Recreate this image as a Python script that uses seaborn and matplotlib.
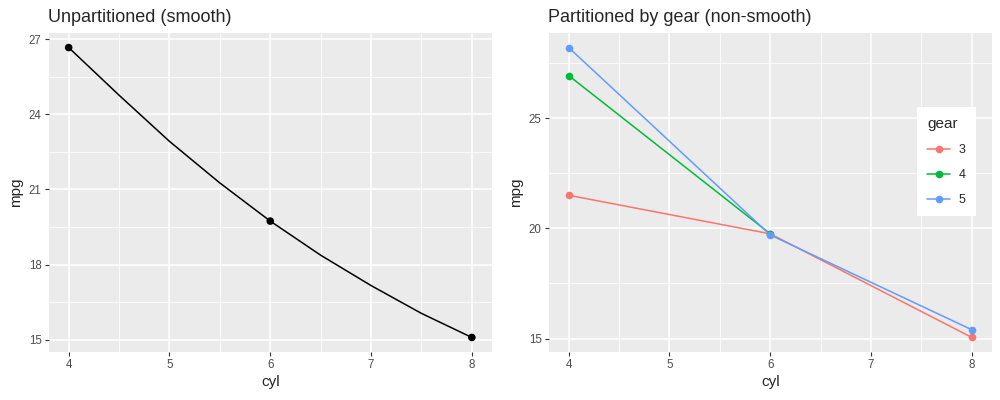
import numpy as np
import pandas as pd
import seaborn as sns
from matplotlib import pyplot as plt

# Left panel: mean mpg by cyl and the smoothed curve drawn through them
cyl_pts = [4, 6, 8]
mpg_pts = [26.66, 19.74, 15.1]
cyl_curve = [4, 4.5, 5, 5.5, 6, 6.5, 7, 7.5, 8]
mpg_curve = [26.66, 24.76, 22.92, 21.26, 19.74, 18.38, 17.17, 16.06, 15.1]

# Right panel: mean mpg by cyl for each gear
gear3_cyl = [4, 6, 8]
gear3_mpg = [21.5, 19.75, 15.05]
gear4_cyl = [4, 6]
gear4_mpg = [26.93, 19.75]
gear5_cyl = [4, 6, 8]
gear5_mpg = [28.2, 19.7, 15.4]
gear_levels = ['3', '4', '5']
gear_colors = ['#F8766D', '#00BA38', '#619CFF']

sns.set_theme(style='darkgrid', rc={
    'axes.facecolor': '#EBEBEB',
    'grid.color': 'white',
    'axes.edgecolor': 'white',
})
plt.rcParams['font.family'] = ['Liberation Sans', 'DejaVu Sans']

df_pts = pd.DataFrame({'cyl': cyl_pts, 'mpg': mpg_pts})
df_curve = pd.DataFrame({'cyl': cyl_curve, 'mpg': mpg_curve})
df_gear = pd.DataFrame({
    'cyl': gear3_cyl + gear4_cyl + gear5_cyl,
    'mpg': gear3_mpg + gear4_mpg + gear5_mpg,
    'gear': ['3'] * len(gear3_cyl) + ['4'] * len(gear4_cyl) + ['5'] * len(gear5_cyl),
})

fig = plt.figure(figsize=(10, 4), dpi=100)
ax1 = fig.add_axes([0.0485, 0.12, 0.4435, 0.7975])
ax2 = fig.add_axes([0.5485, 0.12, 0.4435, 0.7975])


def style_axis(ax, yticks, yminor, title):
    ax.set_xlim(3.8, 8.2)
    ax.set_xticks([4, 5, 6, 7, 8])
    ax.set_xticks([4.5, 5.5, 6.5, 7.5], minor=True)
    ax.set_yticks(yticks)
    ax.set_yticks(yminor, minor=True)
    ax.grid(which='major', color='white', linewidth=1.1)
    ax.grid(which='minor', color='white', linewidth=0.55)
    for s in ax.spines.values():
        s.set_visible(False)
    ax.tick_params(which='major', length=3, width=0.8, color='#333333',
                   labelsize=8.3, labelcolor='#4D4D4D', pad=2, bottom=True, left=True)
    ax.tick_params(which='minor', length=0)
    ax.set_xlabel('cyl', fontsize=11, labelpad=3)
    ax.set_ylabel('mpg', fontsize=11, labelpad=4)
    ax.set_title(title, loc='left', fontsize=13, pad=8, x=0.0)
    ax.set_axisbelow(True)


# left: smooth
sns.lineplot(data=df_curve, x='cyl', y='mpg', ax=ax1, color='black', linewidth=1.1, sort=False)
sns.scatterplot(data=df_pts, x='cyl', y='mpg', ax=ax1, color='black', s=30, edgecolor='none', zorder=3)
ax1.set_ylim(14.52, 27.24)
style_axis(ax1, [15, 18, 21, 24, 27], [16.5, 19.5, 22.5, 25.5], 'Unpartitioned (smooth)')

# right: one line per gear
sns.lineplot(data=df_gear, x='cyl', y='mpg', hue='gear', hue_order=gear_levels,
             palette=gear_colors, marker='o', markersize=5.5, markeredgewidth=0,
             linewidth=1.1, ax=ax2)
ax2.set_ylim(14.39, 28.86)
style_axis(ax2, [15, 20, 25], [17.5, 22.5, 27.5], 'Partitioned by gear (non-smooth)')

leg = ax2.legend(title='gear', loc='center right', bbox_to_anchor=(0.977, 0.597),
                 frameon=True, fancybox=False, facecolor='white', edgecolor='white',
                 framealpha=1, fontsize=9, title_fontsize=11, handlelength=1.8,
                 borderpad=0.8, labelspacing=1.05, alignment='left', handletextpad=0.7)
leg.get_frame().set_linewidth(0)

fig.savefig('out.png', dpi=100)
